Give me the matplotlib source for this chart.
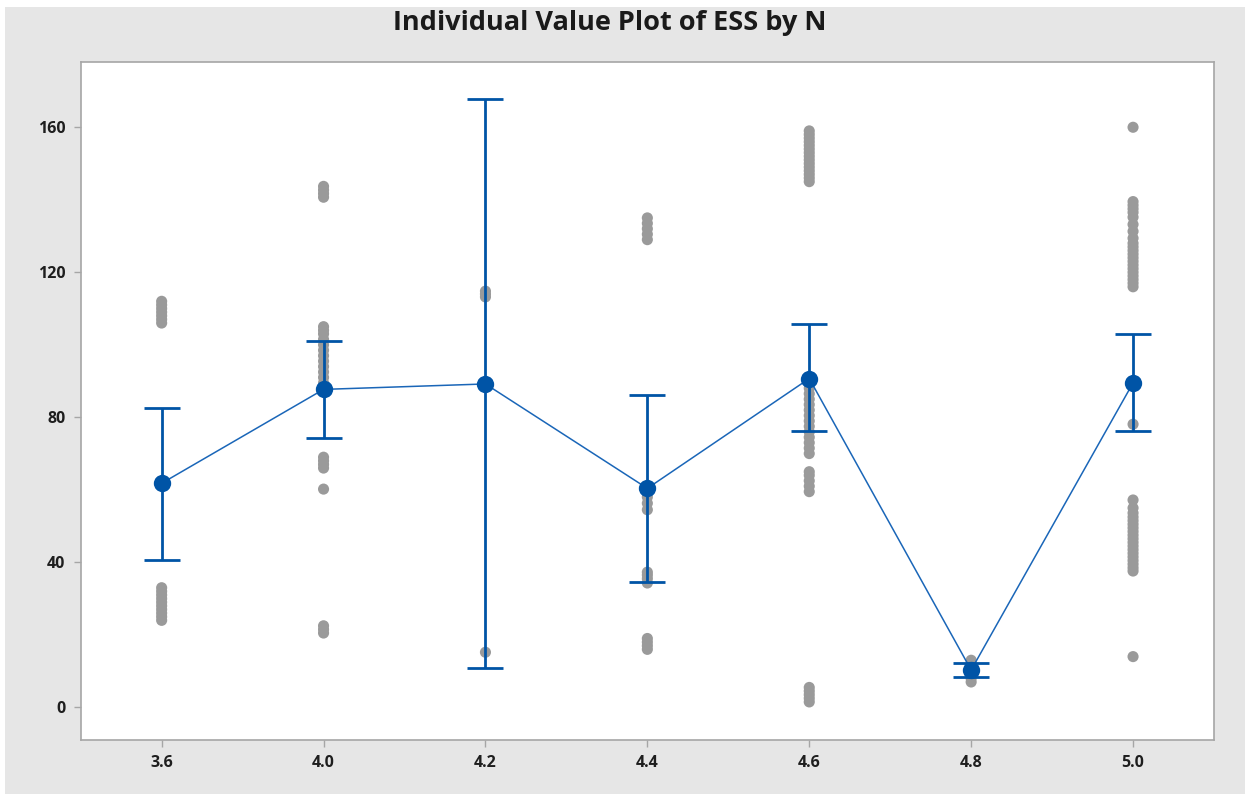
import matplotlib
matplotlib.use("Agg")
import matplotlib.pyplot as plt
from matplotlib.patches import Rectangle

# ---- data ----
categories = ["3.6", "4.0", "4.2", "4.4", "4.6", "4.8", "5.0"]

vals_36 = [106, 107, 108, 109, 110, 111, 112,
           24, 25, 26, 27, 28, 29, 30, 31, 32, 33]
vals_40 = [140.7, 141.7, 142.7, 143.7,
           88, 89.5, 91, 92.5, 94, 95.5, 97, 98.5, 100, 101.5, 103, 104, 105,
           66, 67, 68, 69,
           60.2,
           20.5, 21.5, 22.5]
vals_42 = [113.2, 114.0, 114.8, 15.2]
vals_44 = [129, 130.5, 132, 133.5, 135,
           54.5, 56.3, 58,
           34.3, 35.5, 36.5, 37.3,
           16, 17, 18, 19]
vals_46 = [145, 146, 147, 148, 149, 150, 151, 152, 153, 154, 155, 156, 157, 158, 159,
           70, 71.5, 73, 74.5, 76, 77.5, 79, 80.5, 82, 83.5, 85, 86.5, 88, 89.5, 90.5,
           59.5, 61, 62.5, 64, 65,
           1.5, 2.5, 3.5, 4.5, 5.5]
vals_48 = [7, 8, 9, 10, 11, 12, 13]
vals_50 = [160,
           116, 117, 118, 119, 120, 121, 122, 123, 124, 125, 126, 127, 128,
           129.4, 131.3, 133.2, 135.2, 136.5, 137.5, 138.5, 139.5,
           78.1,
           37.6, 38.5, 39.5, 40.5, 41.5, 42.5, 43.5, 44.5, 45.5, 46.5, 47.5,
           48.5, 49.5, 50.5, 51.5, 52.5, 53.6, 55, 57.2,
           14]
group_values = [vals_36, vals_40, vals_42, vals_44, vals_46, vals_48, vals_50]

means = [61.8, 87.7, 89.2, 60.4, 90.7, 10.3, 89.5]
ci_low = [40.7, 74.4, 10.9, 34.7, 76.2, 8.3, 76.2]
ci_high = [82.7, 101.0, 167.9, 86.2, 105.6, 12.2, 102.9]

# ---- styling ----
blue = "#0054a6"
line_blue = "#1a66b8"
dot_gray = "#9a9a9a"
bg_gray = "#e6e6e6"

fig = plt.figure(figsize=(12.5, 7.94), dpi=100)
fig.patch.set_facecolor("white")
fig.patches.append(Rectangle((5 / 1250, 0), 1240 / 1250, 787 / 794,
                             transform=fig.transFigure, facecolor=bg_gray,
                             edgecolor="none", zorder=-10))

ax = fig.add_axes([80.7 / 1250, (794 - 740) / 794, (1214 - 80.7) / 1250, (740 - 62) / 794])
ax.set_facecolor("white")

xs = list(range(len(categories)))
for x, vals in zip(xs, group_values):
    ax.scatter([x] * len(vals), vals, s=64, color=dot_gray, edgecolors="none", zorder=2)

ax.plot(xs, means, color=line_blue, lw=1.1, zorder=3)

yerr = [[m - lo for m, lo in zip(means, ci_low)], [hi - m for m, hi in zip(means, ci_high)]]
ax.errorbar(xs, means, yerr=yerr, fmt="none", ecolor=blue, elinewidth=2.0,
            capsize=13.3, capthick=2.0, zorder=4)
ax.plot(xs, means, "o", color=blue, markersize=12.5, markeredgewidth=0, zorder=5)

ax.set_xlim(-0.5, 6.5)
ax.set_ylim(-9, 178)
ax.set_xticks(xs)
ax.set_xticklabels(categories)
ax.set_yticks([0, 40, 80, 120, 160])

for sp in ax.spines.values():
    sp.set_color("#a6a6a6")
    sp.set_linewidth(1.2)
ax.tick_params(axis="both", direction="out", length=5, width=1, color="#a6a6a6",
               labelsize=11.5, labelcolor="#1e1e1e", pad=6)
for lab in ax.get_xticklabels() + ax.get_yticklabels():
    lab.set_fontfamily("Open Sans")
    lab.set_fontweight("bold")

fig.text(610 / 1250, 1 - 23 / 794, "Individual Value Plot of ESS by N",
         ha="center", va="center", fontsize=19.5, fontweight="bold",
         family="Open Sans", color="#1a1a1a")

fig.savefig("out.png", dpi=100, facecolor=fig.get_facecolor())
